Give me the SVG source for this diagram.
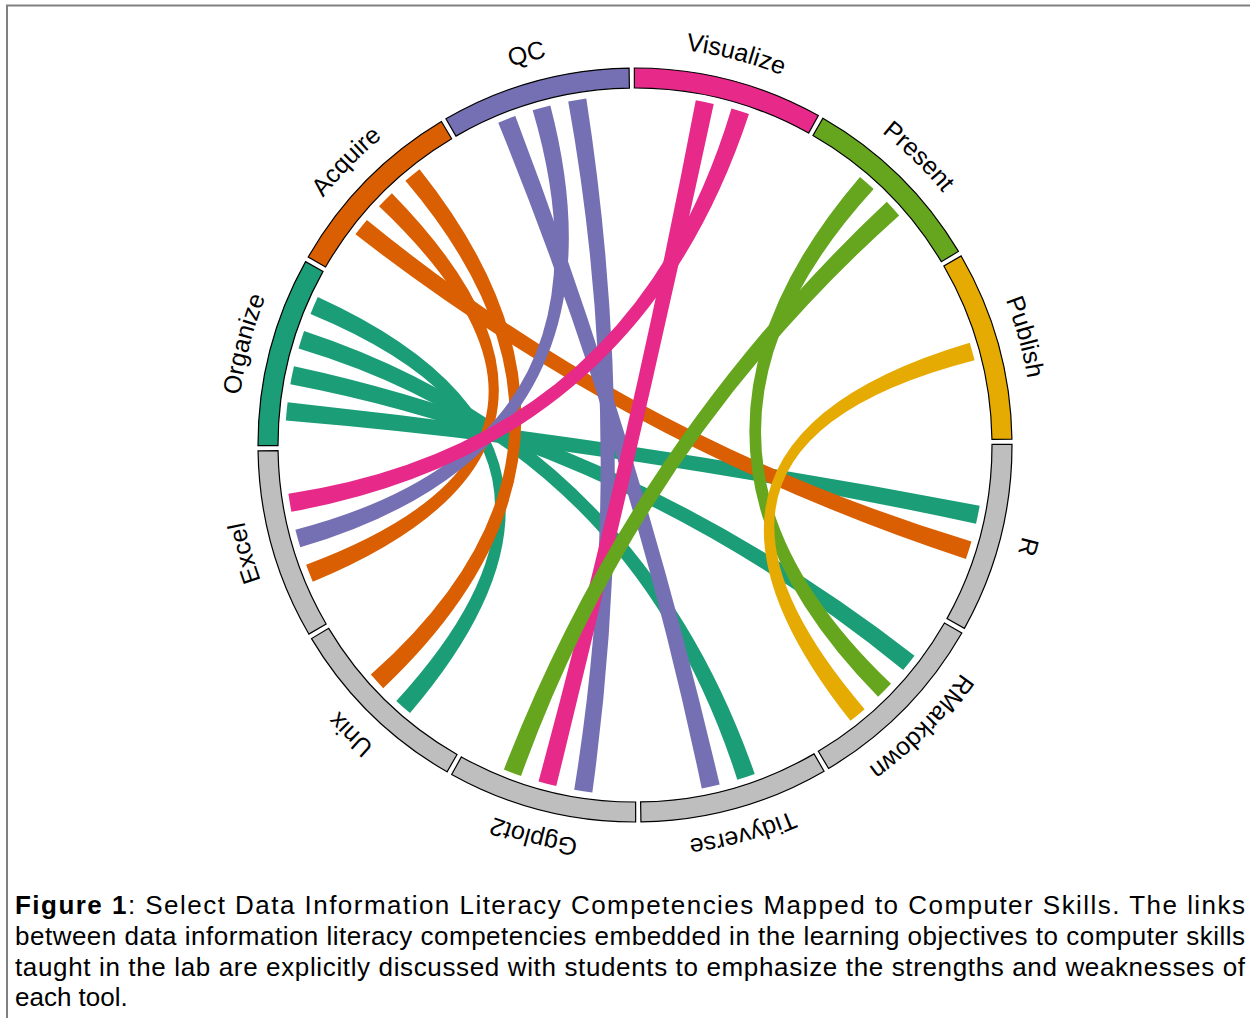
<svg xmlns="http://www.w3.org/2000/svg" width="1250" height="1018" viewBox="0 0 1250 1018">
<style>
.sec{stroke:#000;stroke-width:1.2}
.lbl{font-family:"Liberation Sans",Arial,sans-serif;font-size:25px;fill:#000}
.cap{font-family:"Liberation Sans",Arial,sans-serif;font-size:26px;fill:#000}
.teal{fill:#1B9E77}.orange{fill:#D95F02}.purple{fill:#7570B3}.pink{fill:#E7298A}.green{fill:#66A61E}.yellow{fill:#E6AB02}.grey{fill:#BEBEBE}
</style>
<defs>
<path id="a-publish" d="M977.93 243.00A398 398 0 0 1 1032.98 441.53"/>
<path id="a-present" d="M830.98 98.60A398 398 0 0 1 977.93 243.00"/>
<path id="a-visualize" d="M631.53 47.02A398 398 0 0 1 830.98 98.60"/>
<path id="a-qc" d="M433.00 102.07A398 398 0 0 1 631.53 47.02"/>
<path id="a-acquire" d="M288.60 249.02A398 398 0 0 1 433.00 102.07"/>
<path id="a-organize" d="M237.02 448.47A398 398 0 0 1 288.60 249.02"/>
<path id="a-excel" d="M292.07 647.00A398 398 0 0 1 237.02 448.47"/>
<path id="a-unix" d="M439.02 791.40A398 398 0 0 1 292.07 647.00"/>
<path id="a-ggplot2" d="M638.47 842.98A398 398 0 0 1 439.02 791.40"/>
<path id="a-tidyverse" d="M837.00 787.93A398 398 0 0 1 638.47 842.98"/>
<path id="a-rmarkdown" d="M981.40 640.98A398 398 0 0 1 837.00 787.93"/>
<path id="a-r" d="M1032.98 441.53A398 398 0 0 1 981.40 640.98"/>
</defs>
<rect width="1250" height="1018" fill="#fff"/>
<path d="M7 1018V5.5H1250" fill="none" stroke="#808080" stroke-width="2"/>

<g id="links">
<path class="teal" d="M317.79 297.08A350 350 0 0 0 310.49 313.89Q630.12 446.08 396.30 700.97A350 350 0 0 0 410.02 713.12Q639.88 443.92 317.79 297.08Z"/>
<path class="teal" d="M304.07 331.05A350 350 0 0 0 298.56 348.53Q631.50 448.57 737.33 779.71A350 350 0 0 0 754.71 773.89Q638.50 441.43 304.07 331.05Z"/>
<path class="teal" d="M293.97 366.27A350 350 0 0 0 290.32 384.22Q632.89 449.53 903.12 669.98A350 350 0 0 0 914.52 655.64Q637.11 440.47 293.97 366.27Z"/>
<path class="teal" d="M287.61 402.35A350 350 0 0 0 285.85 420.59Q634.26 449.95 976.03 523.73A350 350 0 0 0 979.68 505.78Q635.74 440.05 287.61 402.35Z"/>
<path class="orange" d="M419.52 169.20A350 350 0 0 0 405.38 180.85Q630.01 444.65 370.85 674.62A350 350 0 0 0 383.23 688.13Q639.99 445.35 419.52 169.20Z"/>
<path class="orange" d="M391.87 193.23A350 350 0 0 0 379.03 206.30Q630.10 444.00 306.11 564.71A350 350 0 0 0 312.82 581.76Q639.90 446.00 391.87 193.23Z"/>
<path class="orange" d="M965.93 558.95A350 350 0 0 0 971.44 541.47Q637.35 440.59 366.89 220.02A350 350 0 0 0 355.48 234.37Q632.65 449.41 965.93 558.95Z"/>
<path class="purple" d="M586.29 98.41A350 350 0 0 0 568.22 101.43Q630.00 445.04 574.22 789.68A350 350 0 0 0 592.35 792.39Q640.00 444.96 586.29 98.41Z"/>
<path class="purple" d="M550.33 105.40A350 350 0 0 0 532.67 110.29Q630.65 442.54 295.40 529.67A350 350 0 0 0 300.29 547.33Q639.35 447.46 550.33 105.40Z"/>
<path class="purple" d="M515.29 116.11A350 350 0 0 0 498.24 122.82Q630.22 446.46 701.78 788.57A350 350 0 0 0 719.67 784.60Q639.78 443.54 515.29 116.11Z"/>
<path class="pink" d="M748.95 114.07A350 350 0 0 0 731.47 108.56Q631.72 441.23 288.41 493.71A350 350 0 0 0 291.43 511.78Q638.28 448.77 748.95 114.07Z"/>
<path class="pink" d="M713.73 103.97A350 350 0 0 0 695.78 100.32Q630.13 443.88 538.53 781.44A350 350 0 0 0 556.27 786.03Q639.87 446.12 713.73 103.97Z"/>
<path class="green" d="M503.89 769.51A350 350 0 0 0 521.05 775.93Q639.15 447.80 899.15 215.38A350 350 0 0 0 886.77 201.87Q630.85 442.20 503.89 769.51Z"/>
<path class="green" d="M878.13 696.77A350 350 0 0 0 890.97 683.70Q640.00 444.83 873.70 189.03A350 350 0 0 0 859.98 176.89Q630.00 445.17 878.13 696.77Z"/>
<path class="yellow" d="M850.48 720.80A350 350 0 0 0 864.62 709.15Q639.77 446.50 974.60 360.33A350 350 0 0 0 969.71 342.67Q630.23 443.50 850.48 720.80Z"/>
</g>

<g id="publish"><path class="sec yellow" d="M961.16 255.93A377 377 0 0 1 1011.95 439.08L991.96 439.39A357 357 0 0 0 943.86 265.96Z"/><text class="lbl"><textPath href="#a-publish" startOffset="50%" text-anchor="middle">Publish</textPath></text></g>
<g id="present"><path class="sec green" d="M822.93 118.18A377 377 0 0 1 958.49 251.40L941.33 261.67A357 357 0 0 0 812.96 135.52Z"/><text class="lbl"><textPath href="#a-present" startOffset="50%" text-anchor="middle">Present</textPath></text></g>
<g id="visualize"><path class="sec pink" d="M634.34 68.00A377 377 0 0 1 818.35 115.59L808.62 133.06A357 357 0 0 0 634.38 88.00Z"/><text class="lbl"><textPath href="#a-visualize" startOffset="50%" text-anchor="middle">Visualize</textPath></text></g>
<g id="qc"><path class="sec purple" d="M445.93 118.84A377 377 0 0 1 629.08 68.05L629.39 88.04A357 357 0 0 0 455.96 136.14Z"/><text class="lbl"><textPath href="#a-qc" startOffset="50%" text-anchor="middle">QC</textPath></text></g>
<g id="acquire"><path class="sec orange" d="M308.18 257.07A377 377 0 0 1 441.40 121.51L451.67 138.67A357 357 0 0 0 325.52 267.04Z"/><text class="lbl"><textPath href="#a-acquire" startOffset="50%" text-anchor="middle">Acquire</textPath></text></g>
<g id="organize"><path class="sec teal" d="M258.00 445.66A377 377 0 0 1 305.59 261.65L323.06 271.38A357 357 0 0 0 278.00 445.62Z"/><text class="lbl"><textPath href="#a-organize" startOffset="50%" text-anchor="middle">Organize</textPath></text></g>
<g id="excel"><path class="sec grey" d="M308.84 634.07A377 377 0 0 1 258.05 450.92L278.04 450.61A357 357 0 0 0 326.14 624.04Z"/><text class="lbl"><textPath href="#a-excel" startOffset="50%" text-anchor="middle">Excel</textPath></text></g>
<g id="unix"><path class="sec grey" d="M447.07 771.82A377 377 0 0 1 311.51 638.60L328.67 628.33A357 357 0 0 0 457.04 754.48Z"/><text class="lbl"><textPath href="#a-unix" startOffset="50%" text-anchor="middle">Unix</textPath></text></g>
<g id="ggplot2"><path class="sec grey" d="M635.66 822.00A377 377 0 0 1 451.65 774.41L461.38 756.94A357 357 0 0 0 635.62 802.00Z"/><text class="lbl"><textPath href="#a-ggplot2" startOffset="50%" text-anchor="middle">Ggplot2</textPath></text></g>
<g id="tidyverse"><path class="sec grey" d="M824.07 771.16A377 377 0 0 1 640.92 821.95L640.61 801.96A357 357 0 0 0 814.04 753.86Z"/><text class="lbl"><textPath href="#a-tidyverse" startOffset="50%" text-anchor="middle">Tidyverse</textPath></text></g>
<g id="rmarkdown"><path class="sec grey" d="M961.82 632.93A377 377 0 0 1 828.60 768.49L818.33 751.33A357 357 0 0 0 944.48 622.96Z"/><text class="lbl"><textPath href="#a-rmarkdown" startOffset="50%" text-anchor="middle">RMarkdown</textPath></text></g>
<g id="r"><path class="sec grey" d="M1012.00 444.34A377 377 0 0 1 964.41 628.35L946.94 618.62A357 357 0 0 0 992.00 444.38Z"/><text class="lbl"><textPath href="#a-r" startOffset="50%" text-anchor="middle">R</textPath></text></g>

<g id="caption">
<text class="cap" x="15" y="914" textLength="1230" lengthAdjust="spacing"><tspan font-weight="bold">Figure 1</tspan>: Select Data Information Literacy Competencies Mapped to Computer Skills. The links</text>
<text class="cap" x="15" y="945" textLength="1230" lengthAdjust="spacing">between data information literacy competencies embedded in the learning objectives to computer skills</text>
<text class="cap" x="15" y="976" textLength="1230" lengthAdjust="spacing">taught in the lab are explicitly discussed with students to emphasize the strengths and weaknesses of</text>
<text class="cap" x="15" y="1006">each tool.</text>
</g>
</svg>
